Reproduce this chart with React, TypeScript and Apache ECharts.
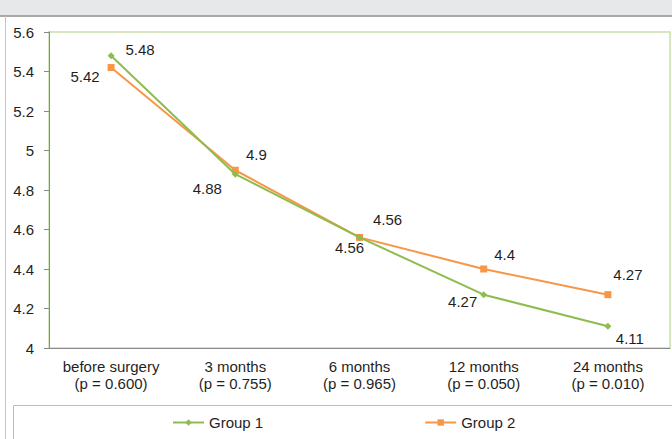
import React, { useEffect, useRef } from "react";
import * as echarts from "echarts";

const categories = [
  "before surgery\n(p = 0.600)",
  "3 months\n(p = 0.755)",
  "6 months\n(p = 0.965)",
  "12 months\n(p = 0.050)",
  "24 months\n(p = 0.010)",
];
const group1 = [5.48, 4.88, 4.56, 4.27, 4.11];
const group2 = [5.42, 4.9, 4.56, 4.4, 4.27];
const seriesNames = ["Group 1", "Group 2"];

const g1Offsets = [[29, -6], [-28, 14], [-10, 10], [-21, 7], [22, 12]];
const g2Offsets = [[-26, 9], [21, -16], [28, -18], [21, -15], [20, -20]];

const FONT = "'Liberation Sans', Arial, sans-serif";
const TXT = "#1f1f1f";
const GREEN = "#8fbc4f";
const ORANGE = "#f79646";

export default function App() {
  const ref = useRef<HTMLDivElement>(null);
  useEffect(() => {
    if (!ref.current) return;
    const chart = echarts.init(ref.current, undefined, { renderer: "svg" });
    const mk = (vals: number[], offs: number[][]) =>
      vals.map((v, i) => ({
        value: v,
        label: {
          show: true,
          position: "inside",
          align: "center",
          verticalAlign: "middle",
          offset: offs[i],
          formatter: String(v),
        },
      }));
    chart.setOption({
      animation: false,
      textStyle: { fontFamily: FONT },
      graphic: [
        { type: "rect", shape: { x: 0, y: 0, width: 672, height: 15 }, style: { fill: "#e7e8ea" }, silent: true },
        { type: "line", shape: { x1: 0, y1: 16, x2: 672, y2: 16 }, style: { stroke: "#8c8c8c", lineWidth: 1.5 }, silent: true },
        { type: "line", shape: { x1: 5.5, y1: 16, x2: 5.5, y2: 439 }, style: { stroke: "#c4c4c4", lineWidth: 1 }, silent: true },
        { type: "rect", shape: { x: 13.5, y: 405.5, width: 670, height: 50 }, style: { fill: "none", stroke: "#bdbdbd", lineWidth: 1 }, silent: true },
      ],
      grid: {
        left: 49,
        top: 32,
        right: 2,
        bottom: 91,
        show: true,
        borderColor: "#c9deab",
        borderWidth: 1.5,
        containLabel: false,
      },
      legend: {
        data: seriesNames,
        left: 167,
        top: 410,
        itemGap: 161,
        itemWidth: 31,
        itemHeight: 8,
        itemTextGap: 4,
        textStyle: { fontSize: 15, color: TXT, fontFamily: FONT },
      },
      xAxis: {
        type: "category",
        data: categories,
        boundaryGap: true,
        axisLine: { lineStyle: { color: "#8a8a8a", width: 1 } },
        axisTick: { show: false },
        axisLabel: { fontSize: 15, color: TXT, lineHeight: 17, margin: 10, interval: 0, fontFamily: FONT },
        splitLine: { show: false },
      },
      yAxis: {
        type: "value",
        min: 4,
        max: 5.6,
        interval: 0.2,
        axisLine: { show: true, lineStyle: { color: "#8a8a8a", width: 1 } },
        axisTick: { show: true, length: 5, lineStyle: { color: "#8a8a8a" } },
        axisLabel: {
          fontSize: 15,
          color: TXT,
          margin: 15,
          fontFamily: FONT,
          formatter: (v: number) => String(Math.round(v * 10) / 10),
        },
        splitLine: { show: false },
      },
      series: [
        {
          name: seriesNames[0],
          type: "line",
          data: mk(group1, g1Offsets),
          symbol: "diamond",
          symbolSize: 7,
          itemStyle: { color: GREEN },
          lineStyle: { color: GREEN, width: 2 },
          label: { fontSize: 15, color: TXT, fontFamily: FONT },
          z: 3,
        },
        {
          name: seriesNames[1],
          type: "line",
          data: mk(group2, g2Offsets),
          symbol: "rect",
          symbolSize: 7,
          itemStyle: { color: ORANGE },
          lineStyle: { color: ORANGE, width: 2 },
          label: { fontSize: 15, color: TXT, fontFamily: FONT },
          z: 2,
        },
      ],
    });
    return () => chart.dispose();
  }, []);
  return (
    <div
      ref={ref}
      style={{ position: "fixed", left: 0, top: 0, width: 672, height: 439, background: "#ffffff" }}
    />
  );
}
